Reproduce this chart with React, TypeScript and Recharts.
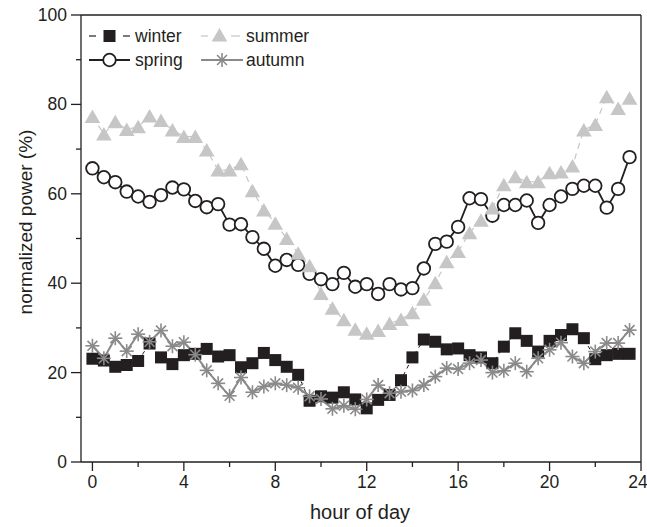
import { LineChart, Line, XAxis, YAxis, ReferenceLine, Label } from 'recharts';

const INK = '#231f20';
const SUMMER = '#c6c6c6';
const AUTUMN = '#8a8a8a';
const FONT = '"Liberation Sans", Arial, Helvetica, sans-serif';

const hours = [
  0, 0.5, 1, 1.5, 2, 2.5, 3, 3.5, 4, 4.5, 5, 5.5, 6, 6.5, 7, 7.5,
  8, 8.5, 9, 9.5, 10, 10.5, 11, 11.5, 12, 12.5, 13, 13.5, 14, 14.5, 15, 15.5,
  16, 16.5, 17, 17.5, 18, 18.5, 19, 19.5, 20, 20.5, 21, 21.5, 22, 22.5, 23, 23.5,
];

const winter = [
  23.1, 22.7, 21.3, 21.7, 22.6, 26.5, 23.4, 21.9, 23.9, 24.2, 25.3, 23.6, 23.9, 21.2, 22.1, 24.4,
  22.8, 21.3, 19.5, 13.7, 14.7, 14.4, 15.6, 14.0, 12.0, 13.9, 15.0, 18.3, 23.4, 27.4, 26.9, 25.2,
  25.4, 23.9, 23.4, 22.1, 25.8, 28.8, 27.1, 24.7, 27.1, 28.4, 29.7, 27.7, 23.0, 23.9, 24.2, 24.2,
];

const spring = [
  65.7, 63.7, 62.6, 60.5, 59.4, 58.2, 59.7, 61.4, 61.0, 58.4, 57.0, 57.7, 53.1, 53.2, 50.3, 47.7,
  43.9, 45.2, 44.1, 42.1, 40.9, 39.8, 42.3, 39.2, 39.8, 37.6, 39.8, 38.6, 38.9, 43.3, 48.8, 49.3,
  52.6, 59.0, 58.8, 55.1, 57.5, 57.5, 58.5, 53.5, 57.5, 59.4, 61.1, 61.8, 61.8, 56.9, 61.1, 68.2,
];

const summer = [
  77.3, 73.4, 76.1, 74.4, 75.0, 77.4, 76.4, 74.3, 72.8, 72.8, 69.8, 65.3, 65.3, 66.7, 60.7, 56.4,
  53.4, 50.0, 46.7, 43.9, 37.7, 34.4, 31.8, 29.7, 28.8, 29.4, 31.0, 31.9, 33.4, 36.4, 40.1, 44.8,
  47.1, 51.3, 54.1, 56.8, 62.0, 63.8, 62.7, 62.7, 64.7, 64.9, 66.2, 74.3, 75.5, 81.7, 79.1, 81.4,
];

const autumn = [
  26.0, 23.2, 27.7, 24.8, 28.6, 26.9, 29.4, 25.9, 26.8, 24.0, 20.5, 17.6, 14.8, 18.9, 15.6, 16.9,
  17.6, 17.2, 16.6, 14.7, 14.1, 11.9, 12.6, 11.8, 14.0, 17.2, 15.4, 15.7, 16.0, 17.2, 19.1, 21.0,
  20.8, 22.1, 22.8, 20.0, 20.4, 22.1, 20.2, 23.2, 25.1, 26.7, 23.6, 22.1, 24.7, 26.6, 26.6, 29.5,
];

const xTicks = [0, 2, 4, 6, 8, 10, 12, 14, 16, 18, 20, 22, 24];
const yTicks = [0, 10, 20, 30, 40, 50, 60, 70, 80, 90, 100];

const data = hours.map((h, i) => ({
  hour: h,
  winter: winter[i],
  spring: spring[i],
  summer: summer[i],
  autumn: autumn[i],
}));

function Square({ cx, cy }: { cx: number; cy: number }) {
  return <rect x={cx - 6} y={cy - 6} width={12} height={12} fill={INK} />;
}

function Circle({ cx, cy }: { cx: number; cy: number }) {
  return <circle cx={cx} cy={cy} r={6.3} fill="#fff" stroke={INK} strokeWidth={1.8} />;
}

function Triangle({ cx, cy }: { cx: number; cy: number }) {
  return (
    <polygon
      points={`${cx},${cy - 7} ${cx - 7.8},${cy + 6.5} ${cx + 7.8},${cy + 6.5}`}
      fill={SUMMER}
    />
  );
}

function Star({ cx, cy }: { cx: number; cy: number }) {
  const r = 7;
  const d = r * 0.7071;
  return (
    <g stroke={AUTUMN} strokeWidth={1.6}>
      <line x1={cx} y1={cy - r} x2={cx} y2={cy + r} />
      <line x1={cx - r} y1={cy} x2={cx + r} y2={cy} />
      <line x1={cx - d} y1={cy - d} x2={cx + d} y2={cy + d} />
      <line x1={cx - d} y1={cy + d} x2={cx + d} y2={cy - d} />
    </g>
  );
}

const dotOf = (Shape: any, name: string) => (p: any) => {
  if (p.cx == null || p.cy == null) return <g key={`${name}-${p.index}`} />;
  return (
    <g key={`${name}-${p.index}`}>
      <Shape cx={p.cx} cy={p.cy} />
    </g>
  );
};

function XTick({ x, y, payload }: any) {
  const major = payload.value % 4 === 0;
  // the last label sits against the page edge; nudge it in a little
  const dx = payload.value === 24 ? -3 : 0;
  return (
    <g>
      <line x1={x} y1={y} x2={x} y2={y + (major ? 9 : 5)} stroke={INK} strokeWidth={1.3} />
      {major && (
        <text x={x + dx} y={y + 26} textAnchor="middle" fontSize={17.5} fontFamily={FONT} fill={INK}>
          {payload.value}
        </text>
      )}
    </g>
  );
}

function YTick({ x, y, payload }: any) {
  const major = payload.value % 20 === 0;
  return (
    <g>
      <line x1={x} y1={y} x2={x - (major ? 10 : 5)} y2={y} stroke={INK} strokeWidth={1.3} />
      {major && (
        <text x={x - 14} y={y + 6} textAnchor="end" fontSize={17.5} fontFamily={FONT} fill={INK}>
          {payload.value}
        </text>
      )}
    </g>
  );
}

function LegendBox() {
  const t = { fontSize: 17.5, fontFamily: FONT, fill: INK };
  return (
    <svg
      width={647}
      height={527}
      style={{ position: 'absolute', left: 0, top: 0, pointerEvents: 'none' }}
    >
      <line x1={89} y1={36} x2={96} y2={36} stroke={INK} strokeWidth={1.2} />
      <line x1={123} y1={36} x2={130} y2={36} stroke={INK} strokeWidth={1.2} />
      <Square cx={109.5} cy={36} />
      <text x={135} y={42} {...t}>winter</text>

      <line x1={201} y1={36} x2={208} y2={36} stroke={SUMMER} strokeWidth={1.2} />
      <line x1={231} y1={36} x2={240} y2={36} stroke={SUMMER} strokeWidth={1.2} />
      <Triangle cx={219.5} cy={35} />
      <text x={246} y={42} {...t}>summer</text>

      <line x1={89} y1={60} x2={130} y2={60} stroke={INK} strokeWidth={1.8} />
      <Circle cx={109.5} cy={60} />
      <text x={135} y={66} {...t}>spring</text>

      <line x1={201} y1={60} x2={243} y2={60} stroke={AUTUMN} strokeWidth={2} />
      <Star cx={222} cy={60} />
      <text x={246} y={66} {...t}>autumn</text>
    </svg>
  );
}

export default function App() {
  return (
    <div style={{ position: 'absolute', left: 0, top: 0, width: 647, height: 527, background: '#fff' }}>
      <LineChart
        width={647}
        height={527}
        data={data}
        margin={{ top: 15, right: 6, bottom: 0, left: 0 }}
      >
        <XAxis
          dataKey="hour"
          type="number"
          domain={[-0.5, 24]}
          ticks={xTicks}
          tick={<XTick />}
          tickLine={false}
          tickSize={0}
          tickMargin={0}
          height={65}
          interval={0}
          axisLine={{ stroke: INK, strokeWidth: 1.3 }}
          allowDataOverflow
        >
          <Label
            content={() => (
              <text x={360} y={519} textAnchor="middle" fontSize={20} fontFamily={FONT} fill={INK}>
                hour of day
              </text>
            )}
          />
        </XAxis>
        <YAxis
          type="number"
          domain={[0, 100]}
          ticks={yTicks}
          tick={<YTick />}
          tickLine={false}
          tickSize={0}
          tickMargin={0}
          width={81}
          interval={0}
          axisLine={{ stroke: INK, strokeWidth: 1.3 }}
        >
          <Label
            content={() => (
              <text
                x={32}
                y={222}
                textAnchor="middle"
                fontSize={19}
                fontFamily={FONT}
                fill={INK}
                transform="rotate(-90 32 222)"
              >
                normalized power (%)
              </text>
            )}
          />
        </YAxis>
        <ReferenceLine y={100} stroke={INK} strokeWidth={1.3} />
        <ReferenceLine x={24} stroke={INK} strokeWidth={1.3} />
        <Line
          dataKey="winter"
          stroke={INK}
          strokeWidth={1}
          strokeDasharray="4 4"
          dot={dotOf(Square, 'w')}
          activeDot={false}
          isAnimationActive={false}
        />
        <Line
          dataKey="spring"
          stroke={INK}
          strokeWidth={1.8}
          dot={dotOf(Circle, 'sp')}
          activeDot={false}
          isAnimationActive={false}
        />
        <Line
          dataKey="summer"
          stroke={SUMMER}
          strokeWidth={1.2}
          strokeDasharray="6 5"
          dot={dotOf(Triangle, 'su')}
          activeDot={false}
          isAnimationActive={false}
        />
        <Line
          dataKey="autumn"
          stroke={AUTUMN}
          strokeWidth={2}
          dot={dotOf(Star, 'au')}
          activeDot={false}
          isAnimationActive={false}
        />
      </LineChart>
      <LegendBox />
    </div>
  );
}
